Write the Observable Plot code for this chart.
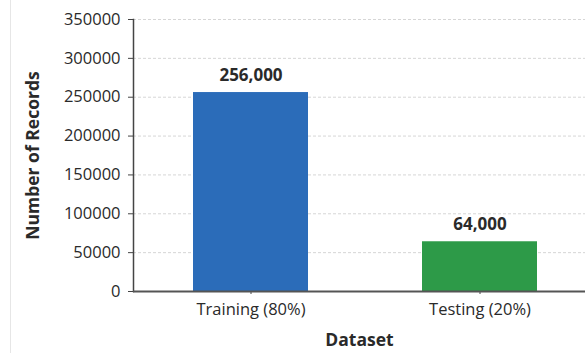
<!DOCTYPE html>
<html>
<head>
<meta charset="utf-8">
<script src="https://cdn.jsdelivr.net/npm/d3@7"></script>
<script src="https://cdn.jsdelivr.net/npm/@observablehq/plot@0.6"></script>
<style>
  html, body { margin: 0; padding: 0; background: #fff; }
  #chart { width: 585px; height: 353px; position: relative; }
  #chart::before { content: ""; position: absolute; left: 10px; top: 0; bottom: 0; border-left: 1px solid #e6e6e6; }
</style>
</head>
<body>
<div id="chart"></div>
<script>
// Dataset split sizes
const splits = ["Training (80%)", "Testing (20%)"];
const records = [256000, 64000];
const colors = ["#2b6cb9", "#2d9a48"];
const yTicks = [0, 50000, 100000, 150000, 200000, 250000, 300000, 350000];

const data = splits.map((s, i) => ({split: s, records: records[i], color: colors[i]}));

const font = "'Open Sans', 'Noto Sans', sans-serif";

const chart = Plot.plot({
  width: 585,
  height: 353,
  marginLeft: 133,
  marginRight: 0,
  marginTop: 19,
  marginBottom: 62,
  style: {fontFamily: font, fontSize: "16.5px", color: "#2a2a2a", background: "#fff"},
  x: {domain: splits, range: [133, 597], paddingInner: 0.5, paddingOuter: 0.26},
  y: {domain: [0, 350000], ticks: yTicks},
  marks: [
    Plot.ruleY(yTicks.filter(d => d > 0), {stroke: "#d6d6d6", strokeDasharray: "3,2"}),
    Plot.barY(data, {x: "split", y: "records", fill: "color"}),
    Plot.text(data, {
      x: "split", y: "records", text: d => d3.format(",")(d.records),
      dy: -17, fontWeight: "bold", fontSize: 17, fill: "#2a2a2a"
    }),
    Plot.axisY({
      ticks: yTicks, tickFormat: d3.format("d"), tickSize: 5, tickPadding: 8,
      stroke: "#444", label: "Number of Records", labelArrow: "none",
      labelAnchor: "center", labelOffset: 107
    }),
    Plot.axisX({
      tickSize: 3, tickPadding: 9, stroke: "#444",
      label: "Dataset", labelArrow: "none", labelAnchor: "center", labelOffset: 54
    }),
    Plot.frame({anchor: "left", stroke: "#444", strokeWidth: 1.5}),
    Plot.ruleY([0], {stroke: "#555", strokeWidth: 2})
  ]
});

// Axis titles are set in a heavier, larger face than the tick labels
d3.select(chart).selectAll('g[aria-label$="axis label"] text')
  .attr("font-weight", "bold")
  .attr("font-size", 17.5)
  .text(function () { return this.textContent.replace(/\s*[↑→←↓]\s*/g, "").trim(); });
document.getElementById("chart").appendChild(chart);
</script>
</body>
</html>
